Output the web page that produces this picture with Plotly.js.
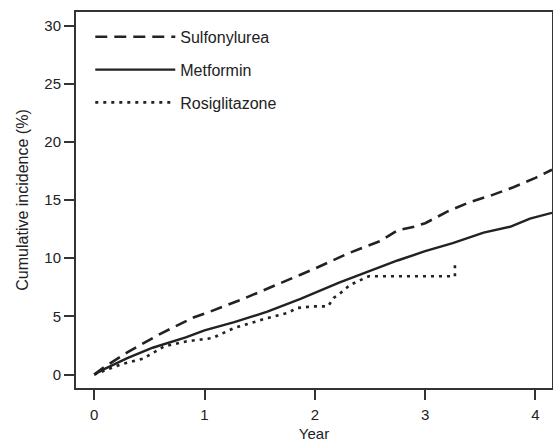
<!DOCTYPE html>
<html>
<head>
<meta charset="utf-8">
<script src="https://cdn.plot.ly/plotly-3.0.1.min.js"></script>
<style>html,body{margin:0;padding:0;background:#fff;}#chart{width:553px;height:442px;}</style>
</head>
<body>
<div id="chart"></div>
<script>
var seriesNames = ["Sulfonylurea", "Metformin", "Rosiglitazone"];

var sulfonylureaYear = [0, 0.1, 0.3, 0.6, 0.9, 1.05, 1.35, 1.7, 2.0, 2.3, 2.6, 2.75, 2.9, 3.0, 3.2, 3.4, 3.6, 3.8, 4.0, 4.15];
var sulfonylureaInc  = [0, 0.7, 1.9, 3.5, 4.9, 5.4, 6.5, 7.9, 9.1, 10.4, 11.5, 12.4, 12.7, 13.0, 14.0, 14.8, 15.4, 16.1, 16.9, 17.6];

var metforminYear = [0, 0.1, 0.3, 0.53, 0.83, 1.0, 1.27, 1.57, 1.87, 2.22, 2.47, 2.75, 3.0, 3.25, 3.53, 3.77, 3.95, 4.15];
var metforminInc  = [0, 0.5, 1.4, 2.3, 3.2, 3.8, 4.5, 5.4, 6.5, 7.9, 8.8, 9.8, 10.6, 11.3, 12.2, 12.7, 13.4, 13.9];

var rosiglitazoneYear = [0, 0.24, 0.44, 0.63, 0.83, 0.95, 1.07, 1.27, 1.57, 1.75, 1.84, 1.99, 2.12, 2.17, 2.22, 2.32, 2.49, 3.27, 3.27];
var rosiglitazoneInc  = [0, 0.86, 1.35, 2.4, 2.84, 3.0, 3.13, 4.0, 4.85, 5.28, 5.72, 5.86, 5.86, 6.58, 6.9, 7.7, 8.45, 8.45, 9.6];

var xTickVals = [0, 1, 2, 3, 4];
var yTickVals = [0, 5, 10, 15, 20, 25, 30];

var lineColor = "#222222";
var traces = [
  {x: sulfonylureaYear, y: sulfonylureaInc, name: seriesNames[0], legendgroup: "a",
   mode: "lines", line: {color: lineColor, width: 2.6, dash: "12px,7px"}},
  {x: metforminYear, y: metforminInc, name: seriesNames[1], legendgroup: "b",
   mode: "lines", line: {color: lineColor, width: 2.4}},
  {x: rosiglitazoneYear, y: rosiglitazoneInc, name: seriesNames[2], legendgroup: "c",
   mode: "lines", line: {color: lineColor, width: 2.6, dash: "3px,5px"}}
];

var font = {family: "Liberation Sans, Arial, sans-serif", color: "#222", size: 15};
var layout = {
  width: 553, height: 442,
  margin: {l: 76, r: 1, t: 12, b: 54},
  paper_bgcolor: "#fff", plot_bgcolor: "#fff",
  font: font,
  showlegend: true,
  legend: {x: 0.03, y: 0.979, xanchor: "left", yanchor: "top", bgcolor: "rgba(0,0,0,0)",
           font: {family: font.family, size: 16, color: "#222"}, itemwidth: 80, tracegroupgap: 9},
  xaxis: {range: [-0.165, 4.15], tickvals: xTickVals, ticks: "outside", ticklen: 10, tickwidth: 2,
          tickcolor: "#333", showline: true, linecolor: "#333", linewidth: 2, mirror: true,
          showgrid: false, zeroline: false, tickfont: {size: 15}, ticklabelstandoff: 2,
          title: {text: "Year", font: {size: 15}, standoff: 10}},
  yaxis: {range: [-1.16, 31.16], tickvals: yTickVals, ticks: "outside", ticklen: 10, tickwidth: 2,
          tickcolor: "#333", showline: true, linecolor: "#333", linewidth: 2, mirror: true,
          showgrid: false, zeroline: false, tickfont: {size: 15},
          title: {text: "Cumulative incidence (%)\u00A0\u00A0\u00A0", font: {size: 16}, standoff: 12}}
};
Plotly.newPlot("chart", traces, layout, {displayModeBar: false, staticPlot: true});
</script>
</body>
</html>
